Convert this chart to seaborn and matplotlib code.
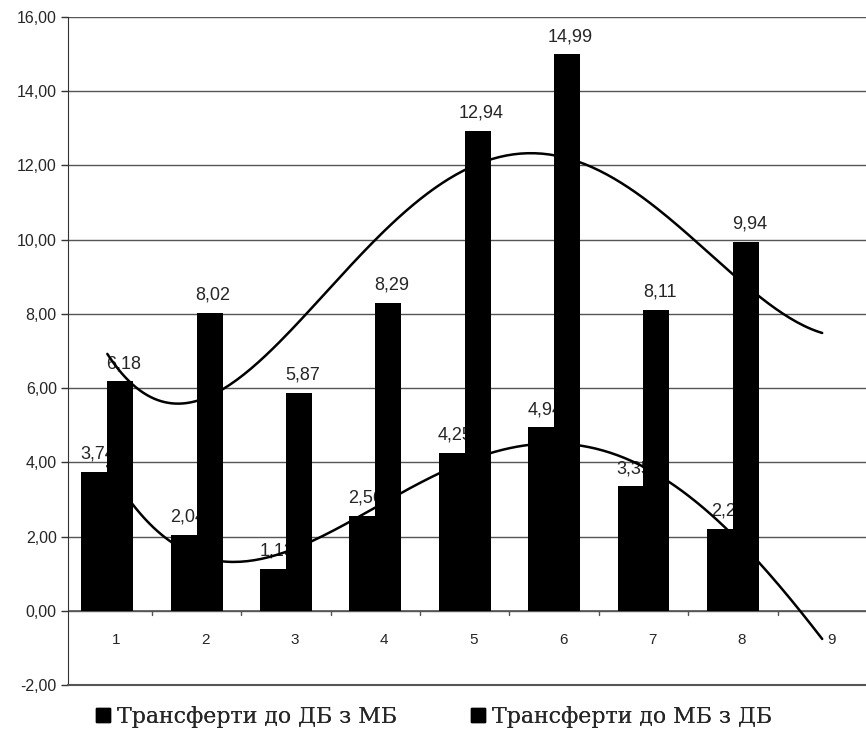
import numpy as np
import pandas as pd
import seaborn as sns
import matplotlib.pyplot as plt
from matplotlib.lines import Line2D

# data
cats = [1, 2, 3, 4, 5, 6, 7, 8]
db_from_mb = [3.74, 2.04, 1.13, 2.56, 4.25, 4.94, 3.35, 2.2]
mb_from_db = [6.18, 8.02, 5.87, 8.29, 12.94, 14.99, 8.11, 9.94]
labels_db = ["3,74", "2,04", "1,13", "2,56", "4,25", "4,94", "3,35", "2,2"]
labels_mb = ["6,18", "8,02", "5,87", "8,29", "12,94", "14,99", "8,11", "9,94"]
series_names = ["Трансферти до ДБ з МБ", "Трансферти до МБ з ДБ"]
yticks = [-2, 0, 2, 4, 6, 8, 10, 12, 14, 16]
xticks = [1, 2, 3, 4, 5, 6, 7, 8, 9]
trend_deg = 4

df = pd.DataFrame({
    "cat": cats * 2,
    "val": db_from_mb + mb_from_db,
    "series": [series_names[0]] * len(cats) + [series_names[1]] * len(cats)})

sns.set_style("white")
plt.rcParams['font.family'] = ['Liberation Sans', 'DejaVu Sans']

fig = plt.figure(figsize=(8.66, 7.3), dpi=100)
ax = fig.add_axes([0.0785, 0.0616, 0.9215, 0.9151])

# grid
for yv in yticks[1:]:
    ax.axhline(yv, color='#555555', lw=1.0, zorder=0)

sns.barplot(data=df, x="cat", y="val", hue="series", native_scale=True,
            palette=['black', 'black'], width=0.58, legend=False,
            saturation=1, linewidth=0, edgecolor='black', ax=ax, zorder=2)

# second series bars sit on top of the first series labels
n = len(cats)
for i, p in enumerate(ax.patches):
    p.set_zorder(4 if i >= n else 2)
    p.set_linewidth(0)

bars = ax.patches
for i, p in enumerate(bars[:2 * n]):
    cx = p.get_x() + p.get_width() / 2
    h = p.get_height()
    lab = labels_db[i] if i < n else labels_mb[i - n]
    ax.text(cx + 0.04, h + 0.25, lab, ha='center', va='bottom', fontsize=13,
            zorder=3 if i < n else 5)

# polynomial trend lines, extended one period forward
xs = np.linspace(1, 9, 200)
for vals in [db_from_mb, mb_from_db]:
    coef = np.polyfit(cats, vals, trend_deg)
    sns.lineplot(x=xs, y=np.polyval(coef, xs), color='black', lw=1.8,
                 ax=ax, zorder=6)

ax.set_xlim(0.56, 9.49)
ax.set_ylim(-2, 16)
ax.set_yticks(yticks)
ax.set_yticklabels([f"{v:.2f}".replace('.', ',') for v in yticks], fontsize=11.5)
ax.set_xticks([])
ax.set_xlabel("")
ax.set_ylabel("")
for xv in xticks:
    ax.text(xv + 0.1, -0.6, str(xv), ha='center', va='top', fontsize=11)
# small ticks at category boundaries on the zero line
for xv in np.arange(1.5, 9.5, 1):
    ax.plot([xv, xv], [0, -0.12], color='#555555', lw=1, zorder=1)
ax.axhline(0, color='#555555', lw=1.2, zorder=1)

ax.tick_params(axis='y', which='major', direction='out', length=5, width=1,
               left=True, color='#333333', pad=3)
for s in ['top', 'right']:
    ax.spines[s].set_visible(False)
ax.spines['left'].set_color('#333333')
ax.spines['bottom'].set_color('#555555')
ax.spines['bottom'].set_linewidth(1.5)

# legend (two separate entries, placed like the original)
for name, x0 in zip(series_names, [94 / 866, 469 / 866]):
    h = Line2D([0], [0], marker='s', color='black', lw=0, markersize=10)
    leg = fig.legend([h], [name], loc='center left', frameon=False,
                     bbox_to_anchor=(x0, 1 - 717 / 730), borderpad=0,
                     borderaxespad=0, handlelength=0.8, handletextpad=0.25,
                     prop={'family': 'DejaVu Serif', 'size': 15.8})
    fig.add_artist(leg)

plt.savefig("out.png", dpi=100)
